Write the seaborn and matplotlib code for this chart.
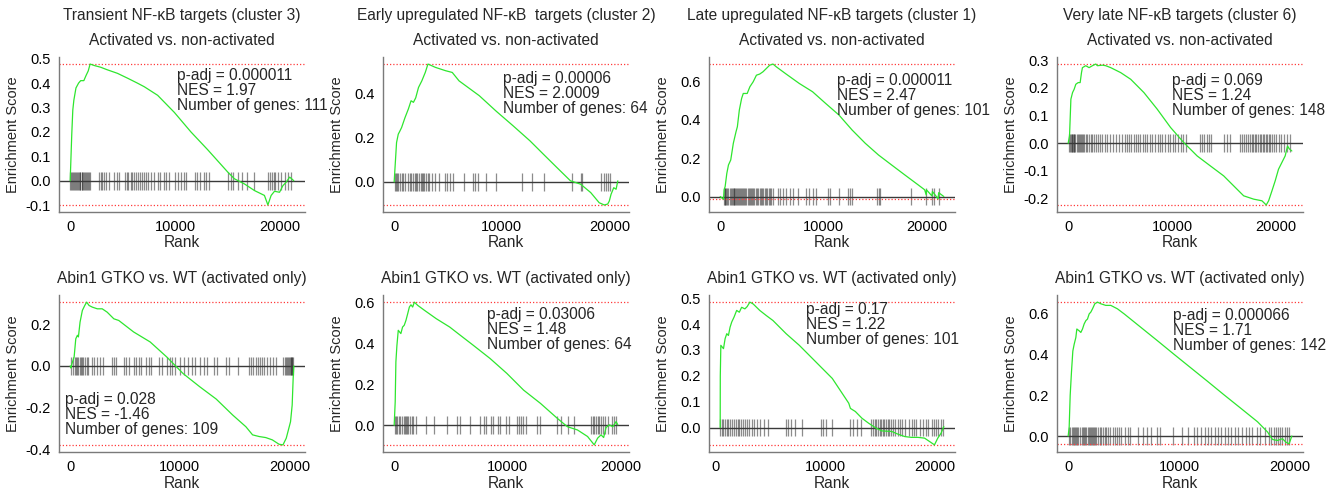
import matplotlib
matplotlib.use("Agg")
import matplotlib.pyplot as plt
import seaborn as sns
from matplotlib.ticker import MultipleLocator, FormatStrFormatter, FixedLocator

sns.set_style("white")
plt.rcParams["font.family"] = ["Liberation Sans", "DejaVu Sans"]

# ---------------------------------------------------------------- data
gene_sets = [
    "Transient NF-\u03baB targets (cluster 3)",
    "Early upregulated NF-\u03baB  targets (cluster 2)",
    "Late upregulated NF-\u03baB targets (cluster 1)",
    "Very late NF-\u03baB targets (cluster 6)",
]
comparisons = ["Activated vs. non-activated", "Abin1 GTKO vs. WT (activated only)"]

# Activated vs. non-activated: running enrichment score and hit ranks
c3_act_rank = [0, 150, 250, 350, 550, 800, 1000, 1300, 1500, 1720, 1900, 2290, 2900,
               3500, 4500, 5470, 6400, 7060, 8330, 9920, 11500, 13100, 15000, 15650,
               16600, 17550, 18500, 18830, 19140, 19460, 19940, 20260, 20570, 20900,
               21100, 21300]
c3_act_es = [0.0, 0.19, 0.29, 0.33, 0.38, 0.40, 0.41, 0.41, 0.43, 0.45, 0.478, 0.472,
             0.465, 0.455, 0.44, 0.42, 0.40, 0.385, 0.35, 0.28, 0.20, 0.127, 0.036,
             0.008, -0.013, -0.04, -0.06, -0.099, -0.06, -0.043, -0.047, -0.02,
             -0.006, 0.015, 0.008, 0.0]
c3_act_hits = [30, 120, 220, 300, 380, 450, 560, 640, 720, 800, 900, 980, 1080, 1150,
               1250, 1330, 1450, 1520, 1600, 1700, 1800, 1900, 2750, 2900, 3050, 3250,
               3450, 3700, 4200, 4450, 4650, 5200, 5400, 5550, 5750, 5900, 6100, 6300,
               6450, 6650, 6800, 7000, 7200, 7450, 7700, 7950, 8350, 8600, 8900, 9150,
               9400, 9950, 10300, 10600, 10800, 11000, 11850, 12100, 12400, 12700,
               12950, 13250, 15000, 15300, 15500, 16000, 16350, 16800, 17500, 18850,
               19000, 19200, 19400, 19550, 19800, 20050, 20500, 20750, 21050]

c2_act_rank = [0, 60, 220, 380, 530, 690, 1000, 1320, 1570, 1790, 2000, 2260, 2570,
               2890, 3140, 3830, 4770, 5400, 6030, 7910, 9480, 11050, 12620, 13880,
               15130, 16390, 17330, 18270, 19060, 19530, 19850, 20000, 20160, 20410,
               20630, 20790]
c2_act_es = [0.0, 0.05, 0.178, 0.216, 0.23, 0.246, 0.29, 0.33, 0.367, 0.36, 0.38, 0.427,
             0.457, 0.495, 0.533, 0.518, 0.503, 0.495, 0.457, 0.39, 0.32, 0.254, 0.186,
             0.125, 0.065, 0.005, -0.01, -0.048, -0.094, -0.104, -0.1, -0.086, -0.056,
             -0.026, -0.033, 0.005]
c2_act_hits = [50, 150, 280, 400, 550, 700, 850, 1000, 1300, 1450, 1600, 1750, 1900,
               2050, 2150, 2300, 2450, 2550, 2700, 2800, 2950, 3100, 3200, 3550, 3800,
               4150, 4700, 4950, 5200, 5500, 6500, 7300, 7550, 7750, 8550, 9500, 11850,
               12800, 13900, 16550, 17350, 17450, 19200, 19500, 19700, 19900, 20100]

c1_act_rank = [0, 320, 380, 480, 640, 800, 1020, 1270, 1530, 1660, 1850, 2070, 2230,
               2610, 2870, 3190, 3500, 3820, 4140, 4460, 4780, 5100, 5410, 6370, 7640,
               8920, 10190, 11470, 12740, 14010, 15290, 16560, 17840, 19110, 19750,
               19900, 19920, 20450, 20500, 21050, 21100, 21600]
c1_act_es = [0.0, -0.014, 0.035, 0.052, 0.12, 0.164, 0.19, 0.277, 0.337, 0.363, 0.45,
             0.51, 0.536, 0.536, 0.571, 0.597, 0.631, 0.637, 0.649, 0.666, 0.683, 0.689,
             0.675, 0.637, 0.588, 0.545, 0.484, 0.424, 0.346, 0.277, 0.216, 0.164,
             0.112, 0.061, 0.035, 0.008, 0.035, 0.003, 0.026, -0.012, 0.02, 0.0]
c1_act_hits = [350, 420, 500, 600, 700, 800, 900, 1000, 1100, 1200, 1300, 1350, 1450,
               1550, 1650, 1750, 1850, 1950, 2050, 2100, 2200, 2300, 2400, 2500, 2650,
               2800, 2900, 3000, 3100, 3200, 3300, 3450, 3550, 3650, 3800, 3900, 4050,
               4150, 4300, 4450, 4550, 4700, 4800, 4950, 5100, 5600, 5800, 6100, 6400,
               6700, 7000, 7500, 8300, 8600, 9000, 9300, 10400, 10600, 11500, 12300,
               12500, 12750, 15150, 15300, 15450, 18450, 19900, 20500, 20650, 21100]

c6_act_rank = [0, 130, 260, 420, 575, 735, 960, 1150, 1280, 1370, 1690, 2010, 2330,
               2650, 2810, 3290, 3610, 4090, 5050, 6010, 7280, 8560, 9840, 11120, 12400,
               13670, 14950, 16230, 16870, 17830, 18630, 19040, 19270, 19590, 19900,
               20220, 20540, 20860, 21090, 21250, 21500]
c6_act_es = [0.0, 0.027, 0.159, 0.183, 0.195, 0.213, 0.219, 0.219, 0.255, 0.273, 0.28,
             0.273, 0.28, 0.286, 0.28, 0.282, 0.28, 0.273, 0.255, 0.231, 0.183, 0.123,
             0.057, 0.002, -0.046, -0.082, -0.118, -0.166, -0.19, -0.202, -0.208,
             -0.223, -0.208, -0.172, -0.136, -0.094, -0.07, -0.046, -0.01, -0.02,
             -0.028]
c6_act_hits = [100, 200, 260, 320, 380, 450, 520, 600, 700, 800, 900, 1000, 1100, 1200,
               1300, 1400, 1550, 1700, 1850, 2000, 2150, 2300, 2450, 2650, 2850, 3050,
               3250, 3500, 3750, 4000, 4300, 4600, 4900, 5200, 5450, 5650, 5850, 6050,
               6300, 6500, 6700, 6900, 7150, 7350, 7600, 7850, 8100, 8350, 8600, 8800,
               9050, 9300, 9550, 9800, 10050, 10300, 10550, 10800, 11050, 11350, 12700,
               12900, 13100, 13300, 13500, 13700, 15000, 15300, 15600, 16500, 16700,
               16900, 17100, 17300, 17500, 17650, 17800, 17950, 18100, 18250, 18400,
               18550, 18700, 18850, 19000, 19150, 19300, 19450, 19600, 19800, 20000,
               20250, 20500, 20750, 21000, 21300]

# Abin1 GTKO vs. WT (activated only)
c3_ko_rank = [0, 60, 210, 360, 510, 660, 750, 900, 1110, 1330, 1500, 1720, 2020, 2470,
              2920, 3370, 3980, 4430, 5780, 7290, 8800, 9400, 10300, 11810, 13310,
              14820, 16020, 16630, 17230, 17830, 18430, 19040, 19400, 19700, 20090,
              20240, 20330, 20390]
c3_ko_es = [0.0, -0.01, 0.019, 0.043, 0.13, 0.147, 0.139, 0.21, 0.266, 0.29, 0.306,
            0.29, 0.282, 0.274, 0.274, 0.258, 0.226, 0.218, 0.163, 0.115, 0.043, 0.011,
            -0.037, -0.1, -0.159, -0.236, -0.292, -0.331, -0.339, -0.344, -0.355,
            -0.376, -0.379, -0.347, -0.268, -0.188, -0.06, 0.0]
c3_ko_hits = [100, 250, 400, 500, 650, 750, 850, 1000, 1100, 1200, 1350, 1500, 1600,
              2000, 2200, 2400, 2700, 3000, 3800, 3950, 4200, 4900, 5100, 5400, 5800,
              6000, 6300, 6500, 6900, 7200, 7400, 8100, 8400, 8800, 9100, 9300, 9600,
              10000, 10400, 10700, 11100, 11400, 11800, 12200, 12500, 13100, 13400,
              14200, 14500, 15300, 16300, 16500, 16700, 16900, 17100, 17300, 17500,
              17700, 17900, 18200, 18500, 18800, 19400, 19550, 19650, 19750, 19850,
              19950, 20050, 20100, 20150, 20200, 20250, 20300]

c2_ko_rank = [0, 90, 150, 240, 360, 590, 740, 890, 1040, 1190, 1340, 1480, 1630, 1780,
              2080, 2670, 3710, 4900, 5640, 6970, 8460, 9940, 11420, 12910, 14390,
              15280, 16170, 17060, 17650, 17950, 18250, 18480, 18690, 18990, 19290,
              19580, 19730]
c2_ko_es = [0.0, 0.115, 0.31, 0.39, 0.465, 0.449, 0.481, 0.49, 0.514, 0.546, 0.579,
            0.59, 0.579, 0.603, 0.587, 0.563, 0.522, 0.481, 0.449, 0.392, 0.327, 0.254,
            0.172, 0.107, 0.034, -0.007, -0.023, -0.055, -0.096, -0.063, -0.047,
            -0.06, -0.011, 0.002, -0.007, 0.018, 0.002]
c2_ko_hits = [50, 150, 250, 400, 550, 700, 850, 950, 1050, 1150, 1250, 1400, 1550, 1700,
              1900, 2800, 3550, 4700, 5500, 5800, 6700, 7600, 7900, 8100, 8500, 8700,
              9200, 9300, 9900, 10100, 10800, 11000, 11200, 11400, 11600, 12600, 12900,
              14400, 14700, 15300, 15900, 17350, 17500, 17650, 17800, 17950, 18100,
              18250, 18450, 18600, 18900, 19200, 19400, 19550]

c1_ko_rank = [450, 460, 510, 750, 900, 1050, 1200, 1350, 1500, 1710, 1950, 2190, 2400,
              2700, 2910, 3150, 3450, 4050, 4650, 5250, 6450, 7650, 9150, 10650, 12150,
              12300, 12750, 13350, 13950, 14550, 15150, 16050, 16650, 17250, 17850,
              18450, 19050, 19950, 20250, 20550, 20800]
c1_ko_es = [0.0, 0.2, 0.318, 0.305, 0.344, 0.363, 0.356, 0.388, 0.408, 0.427, 0.453,
            0.446, 0.465, 0.459, 0.468, 0.485, 0.478, 0.453, 0.433, 0.414, 0.363, 0.318,
            0.254, 0.19, 0.094, 0.074, 0.062, 0.036, 0.017, 0.0, -0.013, -0.015,
            -0.026, -0.035, -0.038, -0.038, -0.041, -0.067, -0.041, -0.022, 0.004]
c1_ko_hits = [450, 600, 750, 900, 1050, 1200, 1350, 1500, 1700, 1900, 2050, 2200, 2350,
              2500, 2700, 2900, 3100, 3300, 3550, 3800, 4100, 4400, 4800, 6400, 6600,
              6900, 7300, 7900, 9600, 9800, 10100, 10600, 12300, 12500, 12900, 13300,
              14200, 14350, 14500, 14650, 14800, 14950, 15100, 15250, 15400, 15550,
              15700, 15850, 16000, 16200, 16400, 16600, 16800, 17000, 17300, 17600,
              17900, 18100, 18300, 18600, 18900, 19200, 19400, 19700, 19900, 20100,
              20300, 20500, 20700]

c6_ko_rank = [0, 90, 180, 300, 420, 540, 690, 780, 990, 1140, 1290, 1440, 1590, 1740,
              1890, 2040, 2190, 2400, 2640, 2940, 3390, 3840, 4440, 5050, 6550, 8050,
              9550, 11050, 12550, 14050, 15560, 17060, 17960, 18410, 18860, 19310,
              19610, 19910, 20150]
c6_ko_es = [0.0, 0.045, 0.2, 0.318, 0.418, 0.451, 0.484, 0.526, 0.517, 0.509, 0.526,
            0.551, 0.567, 0.575, 0.6, 0.609, 0.625, 0.65, 0.658, 0.65, 0.642, 0.642,
            0.625, 0.6, 0.534, 0.468, 0.401, 0.335, 0.269, 0.202, 0.136, 0.07, 0.02,
            -0.017, -0.022, -0.013, -0.03, -0.038, 0.0]
c6_ko_hits = [100, 200, 300, 400, 500, 600, 700, 800, 900, 1100, 1250, 1350, 1450, 1550,
              1650, 1750, 1850, 1950, 2050, 2150, 2250, 2350, 2450, 2550, 2700, 2850,
              3000, 3150, 3300, 3450, 3600, 3800, 4000, 4200, 4400, 4600, 4800, 5100,
              5400, 5600, 6300, 6700, 7100, 7500, 8000, 8300, 9400, 10300, 10800, 11300,
              11600, 12000, 12300, 12600, 12900, 13200, 13500, 13800, 14100, 14400,
              14700, 15000, 15300, 15700, 16000, 16300, 16600, 17000, 17300, 17700,
              18100, 18300, 18500, 18700, 18900, 19100, 19300, 19500, 19700, 19900]

# statistics per panel (rows: comparison, columns: gene set)
padj = [["0.000011", "0.00006", "0.000011", "0.069"],
        ["0.028", "0.03006", "0.17", "0.000066"]]
nes = [["1.97", "2.0009", "2.47", "1.24"],
       ["-1.46", "1.48", "1.22", "1.71"]]
n_genes = [[111, 64, 101, 148],
           [109, 64, 101, 142]]

curves = [
    [(c3_act_rank, c3_act_es, c3_act_hits), (c2_act_rank, c2_act_es, c2_act_hits),
     (c1_act_rank, c1_act_es, c1_act_hits), (c6_act_rank, c6_act_es, c6_act_hits)],
    [(c3_ko_rank, c3_ko_es, c3_ko_hits), (c2_ko_rank, c2_ko_es, c2_ko_hits),
     (c1_ko_rank, c1_ko_es, c1_ko_hits), (c6_ko_rank, c6_ko_es, c6_ko_hits)],
]

# ---------------------------------------------------------------- layout
W, H = 1339, 490
col_left = [59, 383, 709, 1057]
col_width = 246
row_span = [(57, 212), (295, 452)]
y_step = [[0.1, 0.2, 0.2, 0.1], [0.2, 0.2, 0.1, 0.2]]
# anchor (rank, score) of the top-left corner of each statistics block
stat_anchor = [[(10200, 0.462), (10100, 0.500), (11300, 0.640), (10000, 0.254)],
               [(-450, -0.127), (8150, 0.581), (8250, 0.485), (9400, 0.629)]]

FS_TICK = 10.5
FS_TITLE = 11.2
FS_STAT = 11.2
GREEN = "#2ee62e"
RED = "#ff3b3b"

fig = plt.figure(figsize=(W / 100, H / 100), dpi=100)

for r in range(2):
    top, bot = row_span[r]
    for c in range(4):
        ax = fig.add_axes([col_left[c] / W, 1 - bot / H, col_width / W, (bot - top) / H])
        rank, es, hits = curves[r][c]
        es_max, es_min = max(es), min(es)
        tick_h = (max(es_max, 0) - min(es_min, 0)) / 8

        # gene-set hits along the ranked list
        ax.vlines(hits, -tick_h / 2, tick_h / 2, color="#1a1a1a", alpha=0.5, lw=0.9)
        ax.axhline(0, color="#3a3a3a", lw=1.0, zorder=2)
        ax.axhline(es_max, color=RED, lw=0.9, ls=(0, (1, 1.6)), zorder=2)
        ax.axhline(es_min, color=RED, lw=0.9, ls=(0, (1, 1.6)), zorder=2)
        sns.lineplot(x=rank, y=es, ax=ax, color=GREEN, lw=0.9, sort=False,
                     estimator=None, zorder=3)
        ax.margins(x=0.05, y=0.05)

        for side in ("top", "right"):
            ax.spines[side].set_visible(False)
        for side in ("left", "bottom"):
            ax.spines[side].set_color("#7a7a7a")
            ax.spines[side].set_linewidth(1.0)

        ax.xaxis.set_major_locator(FixedLocator([0, 10000, 20000]))
        ax.xaxis.set_major_formatter(FormatStrFormatter("%d"))
        ax.yaxis.set_major_locator(MultipleLocator(y_step[r][c]))
        ax.yaxis.set_major_formatter(FormatStrFormatter("%.1f"))
        ax.tick_params(axis="both", length=0, labelsize=FS_TICK, pad=6, colors="black")

        ax.set_xlabel("Rank", fontsize=FS_TITLE)
        ax.set_ylabel("Enrichment Score", fontsize=FS_TICK)
        ax.yaxis.set_label_coords(-0.16, 0.5)
        ax.xaxis.set_label_coords(0.5, -0.15)

        ax.set_title(comparisons[r], fontsize=FS_TITLE, pad=8.5)
        if r == 0:
            ax.text(0.5, 1 + (57 - 19.5) / (bot - top), gene_sets[c],
                    transform=ax.transAxes, ha="center", va="baseline", fontsize=FS_TITLE)

        sx, sy = stat_anchor[r][c]
        ax.text(sx, sy,
                f"p-adj = {padj[r][c]}\nNES = {nes[r][c]}\nNumber of genes: {n_genes[r][c]}",
                ha="left", va="top", fontsize=FS_STAT, linespacing=1.0)

fig.savefig("out.png", dpi=100)
